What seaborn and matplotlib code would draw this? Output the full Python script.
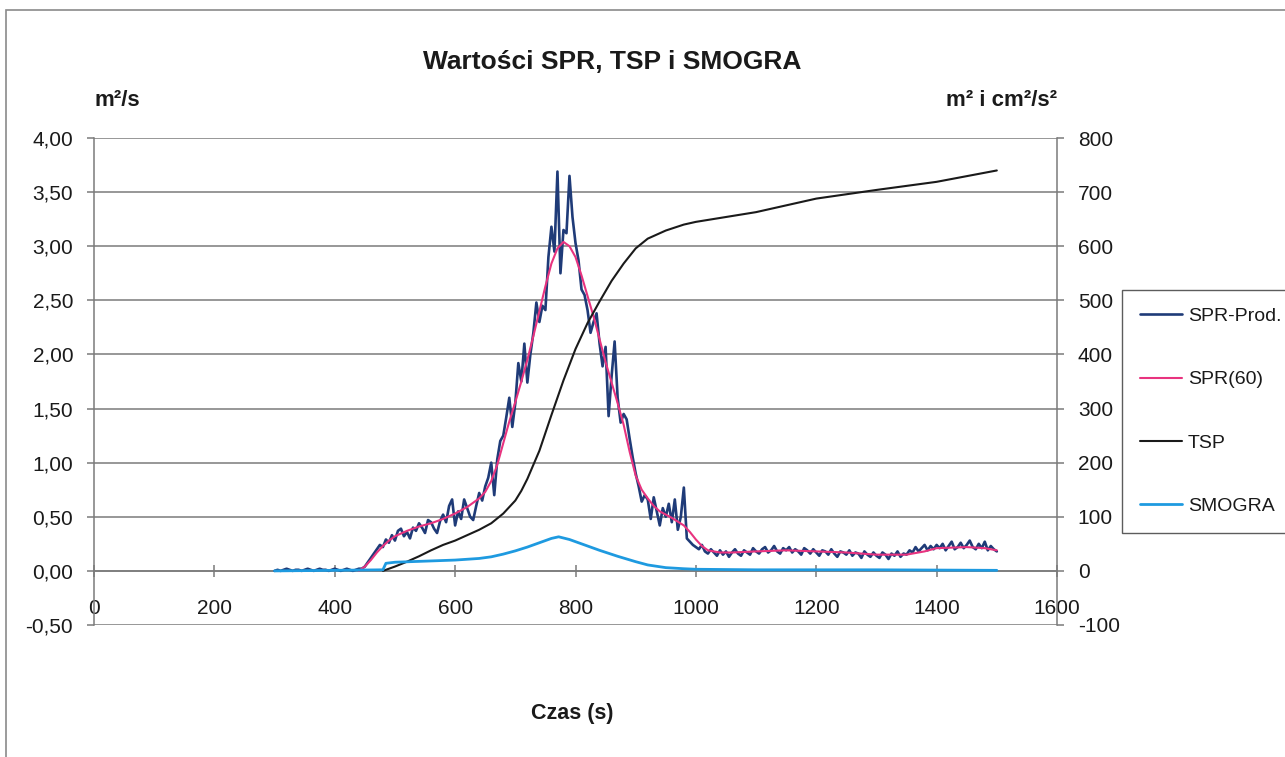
import matplotlib
matplotlib.use("Agg")
import matplotlib.pyplot as plt
import seaborn as sns
from matplotlib.patches import Rectangle
from matplotlib.ticker import FuncFormatter, MultipleLocator

# --- dane ---
czas_prod = list(range(300, 1505, 5))
spr_prod = [
    0.00, 0.01, 0.00, 0.01, 0.02, 0.01, 0.00, 0.01, 0.01, 0.00,
    0.01, 0.02, 0.01, 0.00, 0.01, 0.02, 0.01, 0.01, 0.00, 0.01,
    0.02, 0.01, 0.00, 0.01, 0.02, 0.01, 0.00, 0.01, 0.02, 0.02,
    0.04, 0.08, 0.12, 0.16, 0.20, 0.24, 0.22, 0.29, 0.26, 0.33,
    0.28, 0.37, 0.39, 0.32, 0.36, 0.30, 0.40, 0.37, 0.44, 0.40,
    0.35, 0.47, 0.45, 0.39, 0.35, 0.46, 0.52, 0.45, 0.60, 0.66,
    0.42, 0.55, 0.48, 0.66, 0.58, 0.50, 0.47, 0.60, 0.72, 0.65,
    0.78, 0.86, 1.00, 0.70, 1.03, 1.20, 1.25, 1.42, 1.60, 1.33,
    1.55, 1.92, 1.75, 2.10, 1.74, 2.00, 2.20, 2.48, 2.30, 2.45,
    2.41, 2.90, 3.18, 2.95, 3.69, 2.75, 3.15, 3.12, 3.65, 3.27,
    3.03, 2.87, 2.60, 2.55, 2.41, 2.20, 2.30, 2.38, 2.10, 1.89,
    2.07, 1.43, 1.80, 2.12, 1.60, 1.37, 1.45, 1.40, 1.22, 1.05,
    0.90, 0.78, 0.64, 0.70, 0.66, 0.48, 0.68, 0.55, 0.42, 0.58,
    0.50, 0.62, 0.45, 0.66, 0.38, 0.50, 0.77, 0.30, 0.27, 0.24,
    0.22, 0.20, 0.24, 0.18, 0.16, 0.20, 0.17, 0.14, 0.19, 0.15,
    0.18, 0.13, 0.17, 0.20, 0.16, 0.14, 0.19, 0.17, 0.15, 0.21,
    0.18, 0.16, 0.20, 0.22, 0.17, 0.19, 0.23, 0.18, 0.16, 0.21,
    0.19, 0.22, 0.17, 0.20, 0.18, 0.15, 0.21, 0.19, 0.16, 0.20,
    0.17, 0.14, 0.19, 0.18, 0.15, 0.20, 0.16, 0.13, 0.18, 0.17,
    0.15, 0.19, 0.14, 0.17, 0.16, 0.12, 0.18, 0.15, 0.13, 0.17,
    0.14, 0.12, 0.17, 0.15, 0.11, 0.16, 0.14, 0.18, 0.13, 0.16,
    0.15, 0.19, 0.17, 0.22, 0.18, 0.21, 0.24, 0.19, 0.23, 0.20,
    0.24, 0.21, 0.25, 0.19, 0.23, 0.27, 0.20, 0.22, 0.26, 0.21,
    0.24, 0.28, 0.22, 0.20, 0.25, 0.21, 0.27, 0.19, 0.23, 0.20,
    0.18,
]

czas_60 = [440, 450, 460, 470, 480, 490, 500, 520, 540, 560, 580, 600, 620, 640,
           650, 660, 670, 680, 690, 700, 710, 720, 730, 740, 750, 760, 770, 780,
           790, 800, 810, 820, 830, 840, 850, 860, 870, 880, 890, 900, 910, 920,
           930, 940, 960, 980, 990, 1000, 1010, 1020, 1040, 1060, 1100, 1150,
           1200, 1250, 1300, 1350, 1380, 1400, 1450, 1480, 1500]
spr_60 = [0.00, 0.04, 0.10, 0.17, 0.23, 0.28, 0.32, 0.37, 0.41, 0.44, 0.48, 0.53,
          0.59, 0.67, 0.73, 0.83, 0.98, 1.18, 1.38, 1.56, 1.75, 1.95, 2.17, 2.40,
          2.63, 2.84, 2.98, 3.04, 3.00, 2.90, 2.73, 2.54, 2.35, 2.14, 1.93, 1.74,
          1.55, 1.35, 1.10, 0.88, 0.75, 0.67, 0.60, 0.55, 0.49, 0.42, 0.36, 0.29,
          0.23, 0.19, 0.17, 0.17, 0.18, 0.19, 0.18, 0.17, 0.15, 0.15, 0.18, 0.21,
          0.22, 0.21, 0.19]

czas_tsp = [480, 490, 500, 520, 540, 560, 580, 600, 620, 640, 660, 680, 700, 710,
            720, 730, 740, 750, 760, 770, 780, 800, 820, 840, 860, 880, 900, 920,
            950, 980, 1000, 1100, 1200, 1300, 1400, 1500]
tsp = [0, 4, 8, 17, 27, 38, 48, 56, 66, 76, 88, 106, 130, 148, 170, 196, 222,
       255, 288, 320, 352, 410, 458, 498, 536, 568, 596, 614, 629, 640, 645,
       663, 688, 704, 719, 740]

czas_smogra = [300, 400, 480, 485, 500, 550, 600, 640, 660, 680, 700, 720, 740,
               760, 772, 790, 810, 840, 870, 900, 920, 950, 980, 1000, 1100,
               1300, 1500]
smogra = [0, 1, 2, 14, 16, 18, 20, 23, 26, 31, 37, 44, 52, 60, 63, 58, 50, 38,
          27, 17, 11, 6, 4, 3, 2, 2, 1]

# --- styl ---
sns.set_style("white")
plt.rcParams['font.family'] = ['Liberation Sans', 'DejaVu Sans']

fig = plt.figure(figsize=(12.85, 7.57), dpi=100)
ax = fig.add_axes([94 / 1285, 1 - 625 / 757, (1057 - 94) / 1285, (625 - 138) / 757])
ax2 = ax.twinx()

sns.lineplot(x=czas_prod, y=spr_prod, ax=ax, color='#1f3b78', linewidth=1.9,
             label='SPR-Prod.', zorder=3)
sns.lineplot(x=czas_60, y=spr_60, ax=ax, color='#e8337f', linewidth=1.5,
             label='SPR(60)', zorder=4)
sns.lineplot(x=czas_tsp, y=tsp, ax=ax2, color='#1a1a1a', linewidth=1.5,
             label='TSP', zorder=3)
sns.lineplot(x=czas_smogra, y=smogra, ax=ax2, color='#1e9ae0', linewidth=2.0,
             label='SMOGRA', zorder=3)

grid_kol = '#7a7a7a'
tekst_kol = '#1a1a1a'

# lewa oś
ax.set_xlim(0, 1600)
ax.set_ylim(-0.5, 4.0)
ax.yaxis.set_major_locator(MultipleLocator(0.5))
ax.yaxis.set_major_formatter(FuncFormatter(lambda v, p: f"{v:.2f}".replace('.', ',')))
ax.xaxis.set_major_locator(MultipleLocator(200))
ax.grid(axis='y', color=grid_kol, linewidth=1.1)
ax.grid(axis='x', visible=False)
ax.set_axisbelow(True)
for s in ['top', 'right']:
    ax.spines[s].set_visible(False)
ax.spines['left'].set_color(grid_kol)
ax.spines['left'].set_linewidth(1.1)
ax.spines['bottom'].set_position(('data', 0))
ax.spines['bottom'].set_color(grid_kol)
ax.spines['bottom'].set_linewidth(1.1)
ax.tick_params(axis='y', which='major', left=True, direction='out', length=5,
               width=1.1, color=grid_kol, pad=10, labelsize=15, labelcolor=tekst_kol)
ax.tick_params(axis='x', which='major', bottom=True, direction='inout', length=8,
               width=1.1, color=grid_kol, pad=16, labelsize=15, labelcolor=tekst_kol)
ax.set_xlabel('')
ax.set_ylabel('')

# prawa oś
ax2.set_ylim(-100, 800)
ax2.yaxis.set_major_locator(MultipleLocator(100))
ax2.yaxis.set_major_formatter(FuncFormatter(lambda v, p: f"{v:.0f}"))
for s in ['top', 'left', 'bottom']:
    ax2.spines[s].set_visible(False)
ax2.spines['right'].set_color(grid_kol)
ax2.spines['right'].set_linewidth(1.1)
ax2.tick_params(axis='y', which='major', right=True, direction='out', length=5,
                width=1.1, color=grid_kol, pad=10, labelsize=15, labelcolor=tekst_kol)
ax2.grid(False)
ax2.set_ylabel('')

# legenda
uchwyty, etykiety = [], []
for a in (ax, ax2):
    h, l = a.get_legend_handles_labels()
    uchwyty += h
    etykiety += l
    if a.get_legend() is not None:
        a.get_legend().remove()
leg = fig.legend(uchwyty, etykiety, loc='upper left',
                 bbox_to_anchor=(1122 / 1285, 1 - 290 / 757), fontsize=14,
                 frameon=True, fancybox=False, shadow=False, borderpad=0.9,
                 labelspacing=2.35, handlelength=2.2, handletextpad=0.3,
                 borderaxespad=0)
leg.get_frame().set_edgecolor('#333333')
leg.get_frame().set_linewidth(1.0)
for t in leg.get_texts():
    t.set_color(tekst_kol)

# teksty
fig.text(612 / 1285, 1 - 62 / 757, 'Wartości SPR, TSP i SMOGRA', ha='center',
         va='center', fontsize=19, fontweight='bold', color=tekst_kol)
fig.text(95 / 1285, 1 - 100 / 757, 'm²/s', ha='left', va='center', fontsize=16,
         fontweight='bold', color=tekst_kol)
fig.text(1057 / 1285, 1 - 100 / 757, 'm² i cm²/s²', ha='right', va='center',
         fontsize=16, fontweight='bold', color=tekst_kol)
fig.text(572 / 1285, 1 - 713 / 757, 'Czas (s)', ha='center', va='center',
         fontsize=15.5, fontweight='bold', color=tekst_kol)

# ramka obszaru wykresu
fig.patches.append(Rectangle((6 / 1285, -0.05), 1.1, 1 - 10 / 757 + 0.05,
                             transform=fig.transFigure, fill=False,
                             edgecolor='#8a8a8a', linewidth=1.2))

fig.savefig('out.png', dpi=100, facecolor='white')
